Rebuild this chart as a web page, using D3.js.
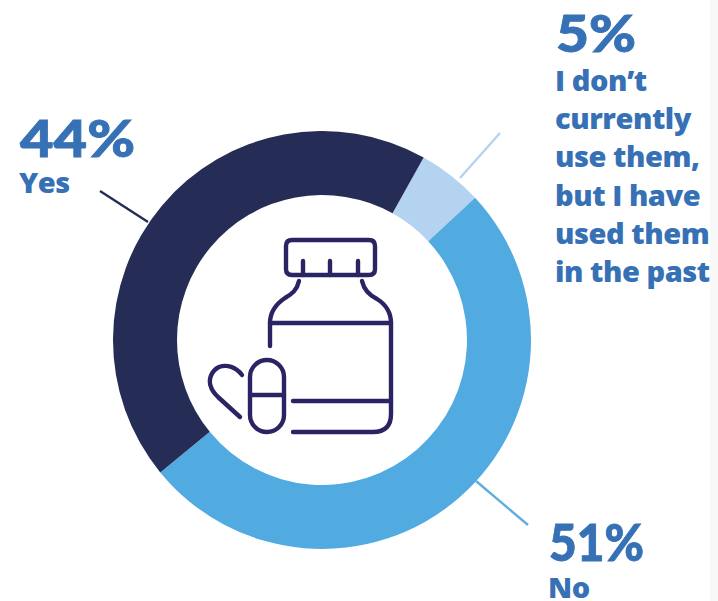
<!DOCTYPE html>
<html>
<head>
<meta charset="utf-8">
<script src="https://cdn.jsdelivr.net/npm/d3@7"></script>
<style>
  html, body { margin: 0; padding: 0; background: #fff; }
  svg { display: block; }
  text { fill: #3771b5; }
  .pct { font-family: "Lato", sans-serif; font-weight: 900; font-size: 52px; stroke: #3771b5; stroke-width: 0.9px; }
  .lab { font-family: "Open Sans", sans-serif; font-weight: 800; font-size: 29px; letter-spacing: -0.45px; }
</style>
</head>
<body>
<svg id="chart" width="718" height="601"></svg>
<script>
// Survey answers, clockwise from the "no longer use" slice
const categories = ["I don\u2019t currently use them, but I have used them in the past", "No", "Yes"];
const shares = [5, 51, 44];
const sliceColors = ["#b4d3f0", "#52abe0", "#252c56"];
const leaderColors = ["#b4d3f0", "#62ade0", "#252c56"];
const pctLabels = ["5%", "51%", "44%"];
const answerLines = [
  ["I don\u2019t", "currently", "use them,", "but I have", "used them", "in the past"],
  ["No"],
  ["Yes"]
];

const svg = d3.select("#chart");
const width = 718, height = 601;
const cx = 322, cy = 340, outerR = 209, innerR = 145;

// Faint page edge on the right
svg.append("rect").attr("x", 710).attr("y", 0).attr("width", 8).attr("height", height).attr("fill", "#f8f8f8");

// Donut
const startAngle = 29.1 * Math.PI / 180;
const pie = d3.pie().sort(null).startAngle(startAngle).endAngle(startAngle + 2 * Math.PI);
const arc = d3.arc().innerRadius(innerR).outerRadius(outerR);
const ring = svg.append("g").attr("transform", `translate(${cx},${cy})`);
ring.selectAll("path").data(pie(shares)).join("path")
  .attr("d", arc)
  .attr("fill", (d, i) => sliceColors[i]);

// Leader lines run from the ring out to each label
const leaders = [
  { x1: 460, y1: 178, x2: 500, y2: 133 },
  { x1: 476, y1: 481, x2: 528, y2: 525 },
  { x1: 148, y1: 222, x2: 100, y2: 191 }
];
svg.selectAll("line.leader").data(leaders).join("line")
  .attr("class", "leader")
  .attr("x1", d => d.x1).attr("y1", d => d.y1)
  .attr("x2", d => d.x2).attr("y2", d => d.y2)
  .attr("stroke", (d, i) => leaderColors[i])
  .attr("stroke-width", 2.4);

// Labels; each percentage is fitted to its own width
const labelPos = [
  { x: 556, pctY: 52, lineY: 91, pctWidth: 80 },
  { x: 549, pctY: 561, lineY: 598, pctWidth: 95 },
  { x: 20, pctY: 157, lineY: 193, pctWidth: 115 }
];
const labels = svg.selectAll("g.label").data(categories).join("g").attr("class", "label");
labels.append("text").attr("class", "pct")
  .attr("x", (d, i) => labelPos[i].x)
  .attr("y", (d, i) => labelPos[i].pctY)
  .attr("textLength", (d, i) => labelPos[i].pctWidth)
  .attr("lengthAdjust", "spacingAndGlyphs")
  .text((d, i) => pctLabels[i]);
labels.each(function (d, i) {
  d3.select(this).selectAll("text.lab").data(answerLines[i]).join("text")
    .attr("class", "lab")
    .attr("x", labelPos[i].x - 1)
    .attr("y", (t, j) => labelPos[i].lineY + j * 38.2)
    .text(t => t);
});

// Pill bottle and capsule icon in the centre of the ring
const icon = svg.append("g")
  .attr("fill", "none")
  .attr("stroke", "#2a2464")
  .attr("stroke-width", 4.4)
  .attr("stroke-linecap", "round")
  .attr("stroke-linejoin", "round");
const iconPaths = [
  // cap
  "M292 240H369Q375 240 375 246V269Q375 275 369 275H292Q286 275 286 269V246Q286 240 292 240Z",
  "M303 261V275", "M330 261V275", "M358 261V275",
  // shoulders and body
  "M299 281C297 290 292 294 285 298C276 304 270 312 270 323V346",
  "M362 281C364 290 369 295 377 299C385 304 391 312 391 323V414Q391 432 373 432H293",
  "M270 323H391",
  "M293 401H391",
  // capsule
  "M250 377A17 17 0 0 1 284 377V415A17 17 0 0 1 250 415Z",
  "M250 395H284",
  // half heart
  "M242 375C236 367 227 364 219 367C211 371 208 380 211 387C212 391 215 394 218 397L240 417"
];
icon.selectAll("path").data(iconPaths).join("path").attr("d", d => d);
</script>
</body>
</html>
